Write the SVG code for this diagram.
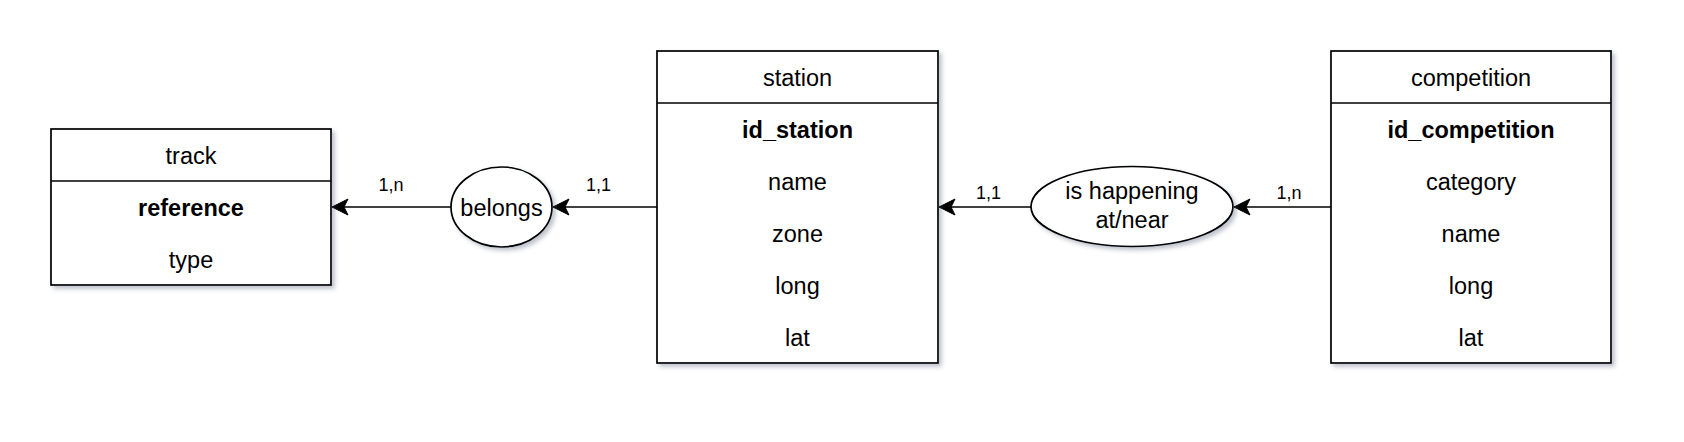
<svg xmlns="http://www.w3.org/2000/svg" width="1684" height="442" viewBox="0 0 1684 442">
<style>
text{font-family:"Liberation Sans",Arial,sans-serif;font-size:23.5px;fill:#000;text-anchor:middle}
.b{font-weight:bold}
.lbl{font-size:18px}
.box{fill:#fff;stroke:#000;stroke-width:1.7}
.ln{stroke:#000;stroke-width:1.7;fill:none}
.edge{stroke:#000;stroke-width:1.7;fill:none}
</style>
<defs>
<filter id="sh" x="-10%" y="-10%" width="130%" height="130%">
<feDropShadow dx="3" dy="3" stdDeviation="2.2" flood-color="#4a5270" flood-opacity="0.35"/>
</filter>
<marker id="arr" viewBox="0 0 18 18" refX="17" refY="9" markerWidth="18" markerHeight="18" markerUnits="userSpaceOnUse" orient="auto">
<path d="M17,9 L1,1 L5,9 L1,17 Z" fill="#000" stroke="#000" stroke-width="1"/>
</marker>
</defs>
<rect width="1684" height="442" fill="#fff"/>
<g id="connectors">
<line class="edge" x1="451" y1="207" x2="332" y2="207" marker-end="url(#arr)"/>
<line class="edge" x1="657" y1="207" x2="553" y2="207" marker-end="url(#arr)"/>
<line class="edge" x1="1031" y1="207" x2="939" y2="207" marker-end="url(#arr)"/>
<line class="edge" x1="1331" y1="207" x2="1234" y2="207" marker-end="url(#arr)"/>
<text class="lbl" x="391" y="191">1,n</text>
<text class="lbl" x="598.5" y="191">1,1</text>
<text class="lbl" x="988.5" y="199">1,1</text>
<text class="lbl" x="1289" y="199">1,n</text>
</g>
<g id="track">
<rect class="box" x="51" y="129" width="280" height="156" filter="url(#sh)"/>
<line class="ln" x1="51" y1="181" x2="331" y2="181"/>
<text x="191" y="163.5">track</text>
<text class="b" x="191" y="215.5">reference</text>
<text x="191" y="267.5">type</text>
</g>
<g id="belongs">
<ellipse class="box" cx="501.5" cy="207" rx="50.5" ry="40" filter="url(#sh)"/>
<text x="501.5" y="215.5">belongs</text>
</g>
<g id="station">
<rect class="box" x="657" y="51" width="281" height="312" filter="url(#sh)"/>
<line class="ln" x1="657" y1="103" x2="938" y2="103"/>
<text x="797.5" y="85.5">station</text>
<text class="b" x="797.5" y="137.5">id_station</text>
<text x="797.5" y="189.5">name</text>
<text x="797.5" y="241.5">zone</text>
<text x="797.5" y="293.5">long</text>
<text x="797.5" y="345.5">lat</text>
</g>
<g id="happening">
<ellipse class="box" cx="1132" cy="206.5" rx="101" ry="40" filter="url(#sh)"/>
<text x="1132" y="199">is happening</text>
<text x="1132" y="227.5">at/near</text>
</g>
<g id="competition">
<rect class="box" x="1331" y="51" width="280" height="312" filter="url(#sh)"/>
<line class="ln" x1="1331" y1="103" x2="1611" y2="103"/>
<text x="1471" y="85.5">competition</text>
<text class="b" x="1471" y="137.5">id_competition</text>
<text x="1471" y="189.5">category</text>
<text x="1471" y="241.5">name</text>
<text x="1471" y="293.5">long</text>
<text x="1471" y="345.5">lat</text>
</g>
</svg>
